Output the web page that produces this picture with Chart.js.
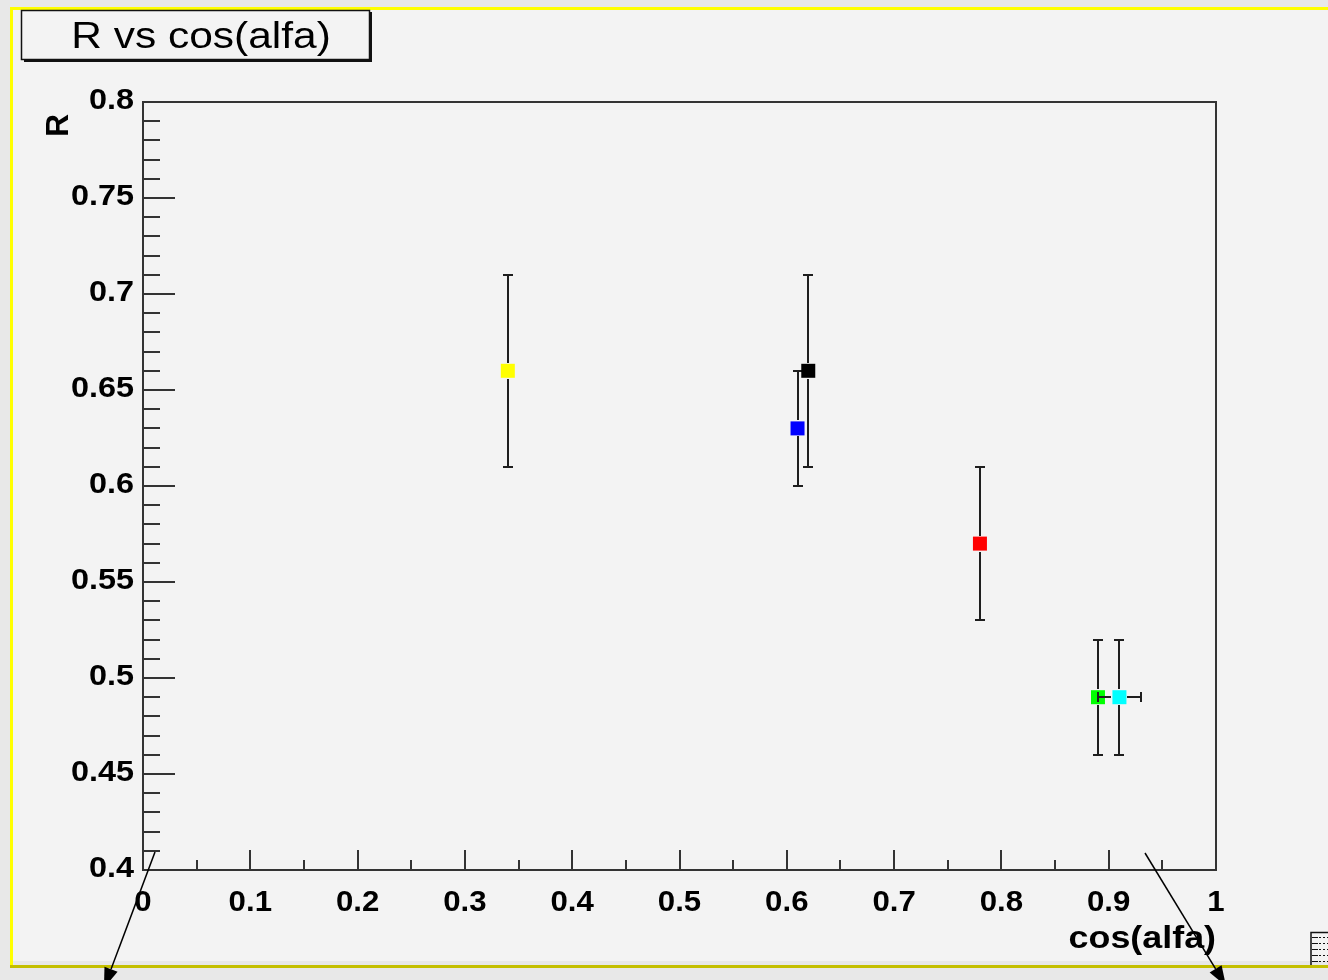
<!DOCTYPE html>
<html>
<head>
<meta charset="utf-8">
<title>R vs cos(alfa)</title>
<script src="https://cdn.jsdelivr.net/npm/chart.js@4.4.1/dist/chart.umd.min.js"></script>
<style>
  html, body { margin: 0; padding: 0; background: #e8e8e8; }
  #wrap { width: 1328px; height: 980px; }
  canvas { display: block; }
</style>
</head>
<body>
<div id="wrap"><canvas id="c" width="1328" height="980"></canvas></div>
<script>
// Measurements: R against cos(alfa), one point per configuration
const cosAlfa    = [0.34, 0.61, 0.62, 0.78, 0.89, 0.91];
const rValues    = [0.66, 0.63, 0.66, 0.57, 0.49, 0.49];
const rErrors    = [0.05, 0.03, 0.05, 0.04, 0.03, 0.03];
const cosErrors  = [0.00, 0.00, 0.00, 0.00, 0.00, 0.02];
const markerColors = ['#ffff00', '#0000ff', '#000000', '#ff0000', '#00ff00', '#00ffff'];

const xTickLabels = ['0', '0.1', '0.2', '0.3', '0.4', '0.5', '0.6', '0.7', '0.8', '0.9', '1'];
const yTickLabels = ['0.4', '0.45', '0.5', '0.55', '0.6', '0.65', '0.7', '0.75', '0.8'];

const titleText = 'R vs cos(alfa)';
const xAxisTitle = 'cos(alfa)';
const yAxisTitle = 'R';

const X_MIN = 0, X_MAX = 1, Y_MIN = 0.4, Y_MAX = 0.8;
const X_MINOR_STEP = 0.05, Y_MINOR_STEP = 0.01;

const PAD_FILL = '#f3f3f3';
const AXIS_COLOR = '#333333';
const BAR_COLOR = '#1e1e1e';
const MARKER_HALF = 7;

function drawStretched(ctx, text, x, y, font, align, baseline, sx) {
  ctx.save();
  ctx.font = font;
  ctx.textAlign = align;
  ctx.textBaseline = baseline;
  ctx.translate(x, y);
  ctx.scale(sx, 1);
  ctx.fillText(text, 0, 0);
  ctx.restore();
}

function arrow(ctx, x0, y0, x1, y1, headLen, headHalf) {
  const dx = x1 - x0, dy = y1 - y0;
  const len = Math.hypot(dx, dy);
  const ux = dx / len, uy = dy / len;
  const bx = x1 - ux * headLen, by = y1 - uy * headLen;
  ctx.beginPath();
  ctx.moveTo(x0, y0);
  ctx.lineTo(bx, by);
  ctx.stroke();
  ctx.beginPath();
  ctx.moveTo(x1, y1);
  ctx.lineTo(bx - uy * headHalf, by + ux * headHalf);
  ctx.lineTo(bx + uy * headHalf, by - ux * headHalf);
  ctx.closePath();
  ctx.fill();
}

// Canvas, pad frame, title box, axes frame and tick marks
const padPlugin = {
  id: 'padDecor',
  beforeDraw(chart) {
    const ctx = chart.ctx;
    const W = chart.width, H = chart.height;
    ctx.save();
    ctx.fillStyle = '#e8e8e8';
    ctx.fillRect(0, 0, W, H);
    // pad
    ctx.fillStyle = PAD_FILL;
    ctx.fillRect(10, 7, W - 10, 961 - 7);
    ctx.fillStyle = '#ffff00';
    ctx.fillRect(10, 7, W - 10, 3);
    ctx.fillRect(10, 7, 3, 961);
    ctx.fillStyle = '#c4bf00';
    ctx.fillRect(10, 965, W - 10, 3);

    // title box with shadow
    ctx.fillStyle = '#111';
    ctx.fillRect(24, 59, 348, 3);
    ctx.fillRect(369, 12, 3, 50);
    ctx.fillStyle = PAD_FILL;
    ctx.fillRect(21, 10, 349, 50);
    ctx.strokeStyle = '#111';
    ctx.lineWidth = 1.5;
    ctx.strokeRect(21.5, 10.5, 348, 49);
    ctx.fillStyle = '#000';
    drawStretched(ctx, titleText, 201, 48, '36px "Liberation Sans", Arial, sans-serif', 'center', 'alphabetic', 1.18);
    ctx.restore();
  },
  beforeDatasetsDraw(chart) {
    const ctx = chart.ctx;
    const xs = chart.scales.x, ys = chart.scales.y;
    const a = chart.chartArea;
    ctx.save();
    ctx.strokeStyle = AXIS_COLOR;
    ctx.lineWidth = 2;
    ctx.strokeRect(a.left, a.top, a.right - a.left, a.bottom - a.top);

    ctx.lineWidth = 2;
    // y ticks (inside, from the left axis)
    const nYMinor = Math.round((Y_MAX - Y_MIN) / Y_MINOR_STEP);
    for (let i = 0; i <= nYMinor; i++) {
      const v = Y_MIN + i * Y_MINOR_STEP;
      const yp = Math.round(ys.getPixelForValue(v));
      const major = i % 5 === 0;
      ctx.beginPath();
      ctx.moveTo(a.left, yp);
      ctx.lineTo(a.left + (major ? 32 : 17), yp);
      ctx.stroke();
    }
    // x ticks (inside, from the bottom axis)
    const nXMinor = Math.round((X_MAX - X_MIN) / X_MINOR_STEP);
    for (let i = 0; i <= nXMinor; i++) {
      const v = X_MIN + i * X_MINOR_STEP;
      const xp = Math.round(xs.getPixelForValue(v));
      const major = i % 2 === 0;
      ctx.beginPath();
      ctx.moveTo(xp, a.bottom);
      ctx.lineTo(xp, a.bottom - (major ? 20 : 10));
      ctx.stroke();
    }

    // tick labels
    ctx.fillStyle = '#000';
    const labelFont = 'bold 30px "Liberation Sans", Arial, sans-serif';
    yTickLabels.forEach(t => {
      const yp = ys.getPixelForValue(Number(t));
      drawStretched(ctx, t, a.left - 9, yp - 1, labelFont, 'right', 'middle', 1.08);
    });
    xTickLabels.forEach(t => {
      const xp = xs.getPixelForValue(Number(t));
      drawStretched(ctx, t, xp, a.bottom + 33, labelFont, 'center', 'middle', 1.04);
    });

    // axis titles
    drawStretched(ctx, xAxisTitle, a.right, a.bottom + 78, 'bold 32px "Liberation Sans", Arial, sans-serif', 'right', 'alphabetic', 1.12);
    ctx.save();
    ctx.translate(68, 114);
    ctx.rotate(-Math.PI / 2);
    ctx.font = 'bold 32px "Liberation Sans", Arial, sans-serif';
    ctx.textAlign = 'right';
    ctx.textBaseline = 'alphabetic';
    ctx.fillText(yAxisTitle, 0, 0);
    ctx.restore();
    ctx.restore();
  },
  // error bars of each point, drawn just before its marker
  beforeDatasetDraw(chart, args) {
    const i = args.index;
    const ds = chart.data.datasets[i];
    const xs = chart.scales.x, ys = chart.scales.y;
    const ctx = chart.ctx;
    const p = ds.data[0];
    const xc = Math.round(xs.getPixelForValue(p.x)), yc = Math.round(ys.getPixelForValue(p.y));
    const gap = MARKER_HALF + 1;
    ctx.save();
    ctx.strokeStyle = BAR_COLOR;
    ctx.lineWidth = 2;
    if (p.ey > 0) {
      const yt = Math.round(ys.getPixelForValue(p.y + p.ey)), yb = Math.round(ys.getPixelForValue(p.y - p.ey));
      ctx.beginPath();
      ctx.moveTo(xc, yt); ctx.lineTo(xc, yc - gap);
      ctx.moveTo(xc, yc + gap); ctx.lineTo(xc, yb);
      ctx.moveTo(xc - 5, yt); ctx.lineTo(xc + 5, yt);
      ctx.moveTo(xc - 5, yb); ctx.lineTo(xc + 5, yb);
      ctx.stroke();
    }
    if (p.ex > 0) {
      const xl = Math.round(xs.getPixelForValue(p.x - p.ex)), xr = Math.round(xs.getPixelForValue(p.x + p.ex));
      ctx.beginPath();
      ctx.moveTo(xl, yc); ctx.lineTo(xc - gap, yc);
      ctx.moveTo(xc + gap, yc); ctx.lineTo(xr, yc);
      ctx.moveTo(xl, yc - 5); ctx.lineTo(xl, yc + 5);
      ctx.moveTo(xr, yc - 5); ctx.lineTo(xr, yc + 5);
      ctx.stroke();
    }
    ctx.restore();
  },
  afterDraw(chart) {
    const ctx = chart.ctx;
    ctx.save();
    ctx.strokeStyle = '#000';
    ctx.fillStyle = '#000';
    ctx.lineWidth = 1.5;
    arrow(ctx, 155, 852, 104, 988, 20, 7);
    arrow(ctx, 1145, 853, 1226, 986, 20, 7);

    // small editor icon at the lower right corner
    ctx.lineWidth = 1.5;
    ctx.strokeStyle = '#111';
    ctx.beginPath();
    ctx.moveTo(1311, 965); ctx.lineTo(1311, 932.5); ctx.lineTo(1328, 932.5);
    ctx.stroke();
    ctx.lineWidth = 1;
    for (let k = 0; k < 5; k++) {
      const yy = 937.5 + k * 6;
      ctx.beginPath();
      ctx.moveTo(1312, yy); ctx.lineTo(1318, yy);
      ctx.stroke();
      ctx.setLineDash([2, 2]);
      ctx.beginPath();
      ctx.moveTo(1319, yy); ctx.lineTo(1328, yy);
      ctx.stroke();
      ctx.setLineDash([]);
    }
    ctx.restore();
  }
};

const datasets = cosAlfa.map((x, i) => ({
  label: 'point ' + (i + 1),
  data: [{ x: x, y: rValues[i], ex: cosErrors[i], ey: rErrors[i] }],
  pointStyle: 'rect',
  pointRadius: MARKER_HALF * Math.SQRT2,
  pointHoverRadius: MARKER_HALF * Math.SQRT2,
  pointBackgroundColor: markerColors[i],
  pointBorderWidth: 0,
  borderWidth: 0,
  showLine: false,
  // later points are painted over earlier ones
  order: cosAlfa.length - i
}));

new Chart(document.getElementById('c'), {
  type: 'scatter',
  data: { datasets },
  options: {
    responsive: false,
    animation: false,
    devicePixelRatio: 1,
    layout: { padding: { left: 143, top: 102, right: 112, bottom: 110 } },
    plugins: { legend: { display: false }, tooltip: { enabled: false }, title: { display: false } },
    scales: {
      x: { type: 'linear', min: X_MIN, max: X_MAX, display: false },
      y: { type: 'linear', min: Y_MIN, max: Y_MAX, display: false }
    },
    clip: false
  },
  plugins: [padPlugin]
});
</script>
</body>
</html>
